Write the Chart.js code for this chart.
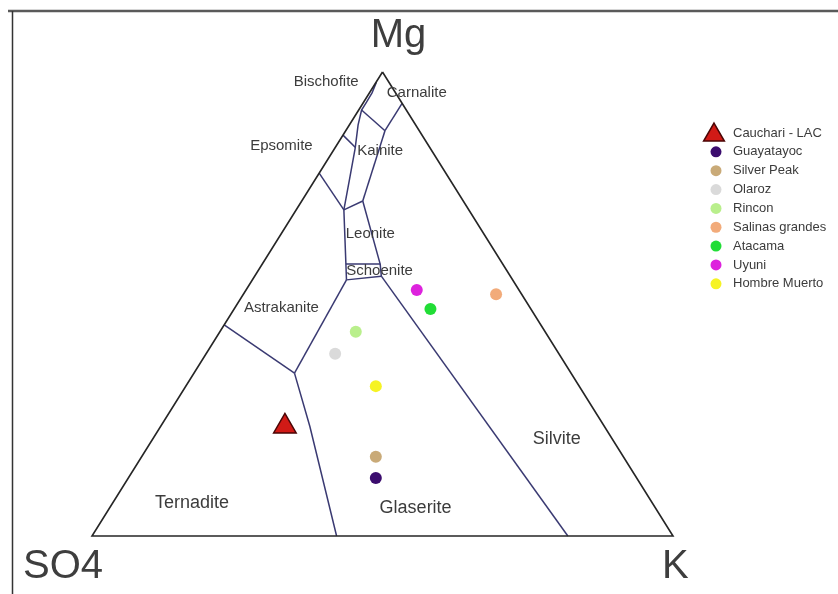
<!DOCTYPE html>
<html><head><meta charset="utf-8">
<script src="https://cdn.jsdelivr.net/npm/chart.js@4.4.0/dist/chart.umd.min.js"></script>
<style>html,body{margin:0;padding:0;background:#fff;overflow:hidden}#wrap{width:838px;height:594px;position:relative}</style>
</head><body><div id="wrap"><canvas id="c" width="838" height="594"></canvas></div>
<script>
// ---- data (ternary compositions, %) ----
const vertexLabels = ['Mg', 'SO4', 'K'];
const seriesNames = ['Cauchari - LAC','Guayatayoc','Silver Peak','Olaroz','Rincon','Salinas grandes','Atacama','Uyuni','Hombre Muerto'];
const mgPct  = [23.6, 12.5, 17.1, 39.3, 44.0, 52.1, 48.9, 53.0, 32.3];
const so4Pct = [55.0, 44.9, 42.6, 38.5, 32.6,  4.4, 17.3, 17.6, 35.0];
const kPct   = [21.4, 42.6, 40.3, 22.2, 23.4, 43.5, 33.8, 29.4, 32.7];

// phase-field boundaries, points as [Mg %, K %] (SO4 = remainder)
const triangleOutline       = [[100,0],[0,0],[0,100],[100,0]];
const bndBischofiteWest     = [[97.8,0.05],[95.5,0.45],[93.5,0.5],[91.8,0.5],[88.6,1.5],[83.6,3.5],[77.4,5.7],[70.3,8.2]];
const bndBischofiteEpsomite = [[86.4,0],[83.8,3.4]];
const bndEpsomiteSouth      = [[78.2,0],[70.3,8.2]];
const bndCarnalliteKainite  = [[91.8,0.5],[87.35,6.75]];
const bndCarnalliteEast     = [[87.35,6.75],[93.25,6.75]];
const bndKainiteEast        = [[87.35,6.75],[72.2,10.5]];
const bndKainiteLeonite     = [[72.2,10.5],[70.3,8.2]];
const bndLeoniteWest        = [[70.3,8.2],[58.6,14.4],[55.2,16.2]];
const bndLeoniteEast        = [[72.2,10.5],[58.6,20.3],[56.0,21.8]];
const bndSchoeniteTop       = [[58.6,14.4],[58.6,20.3]];
const bndSchoeniteBottom    = [[55.2,16.2],[56.0,21.8]];
const bndGlaseriteSilvite   = [[56.0,21.8],[0,81.9]];
const bndAstrakaniteGlaserite = [[55.2,16.2],[35.1,17.3]];
const bndTernaditeGlaserite = [[35.1,17.3],[23.6,25.7],[0,42.1]];
const bndAstrakaniteTernadite = [[45.5,0],[35.1,17.3]];
const boundaries = [bndBischofiteWest,bndBischofiteEpsomite,bndEpsomiteSouth,bndCarnalliteKainite,bndCarnalliteEast,
  bndKainiteEast,bndKainiteLeonite,bndLeoniteWest,bndLeoniteEast,bndSchoeniteTop,bndSchoeniteBottom,
  bndGlaseriteSilvite,bndAstrakaniteGlaserite,bndTernaditeGlaserite,bndAstrakaniteTernadite];

const fieldNames = ['Bischofite','Carnalite','Epsomite','Kainite','Leonite','Schoenite','Astrakanite','Ternadite','Glaserite','Silvite'];

// ---- styles / layout ----
const pointColors = ['#d11a16','#3b0c6e','#c9aa78','#dadada','#b9ef8c','#f2ab7a','#21dd36','#dd22dd','#f6f324'];
const fieldLabelPos = [[40.3,97.9],[55.9,95.4],[32.6,84.0],[49.6,83.0],[47.9,65.2],[49.5,57.1],[32.6,49.2],[17.2,7.2],[55.7,6.0],[80.0,20.8]];
const fieldLabelSize = [15,15,15,15,15,15,15,18,18,18];
const FONT = "'Liberation Sans', Arial, Helvetica, sans-serif";

function toXY(mg, so4, k) {
  const t = mg + so4 + k;
  const M = mg / t * 100, K = k / t * 100;
  return { x: K + M / 2, y: M };
}
const linePts = arr => arr.map(p => toXY(p[0], 100 - p[0] - p[1], p[1]));

const pointSets = seriesNames.map((name, i) => ({
  label: name,
  data: [toXY(mgPct[i], so4Pct[i], kPct[i])],
  pointStyle: i === 0 ? 'triangle' : 'circle',
  pointRadius: i === 0 ? 13 : 6,
  backgroundColor: pointColors[i],
  borderColor: i === 0 ? '#4a0505' : pointColors[i],
  borderWidth: i === 0 ? 1.5 : 0,
  order: 0,
  isSeries: true
}));
const lineSets = [{
  label: 'outline', data: linePts(triangleOutline), showLine: true, pointRadius: 0,
  borderColor: '#262626', borderWidth: 1.6, order: 1, tension: 0
}].concat(boundaries.map(b => ({
  label: 'boundary', data: linePts(b), showLine: true, pointRadius: 0,
  borderColor: '#3a3a72', borderWidth: 1.5, order: 1, tension: 0
})));

const decor = {
  id: 'decor',
  beforeDraw(chart) {
    const c = chart.ctx;
    c.save();
    c.fillStyle = '#fff';
    c.fillRect(0, 0, chart.width, chart.height);
    c.restore();
  },
  afterDraw(chart) {
    const c = chart.ctx, xs = chart.scales.x, ys = chart.scales.y;
    const px = (x, y) => [xs.getPixelForValue(x), ys.getPixelForValue(y)];
    c.save();
    // frame
    c.strokeStyle = '#5a5a5a'; c.lineWidth = 2.5;
    c.beginPath(); c.moveTo(8, 11); c.lineTo(838, 11); c.stroke();
    c.lineWidth = 1.5; c.strokeStyle = '#333';
    c.beginPath(); c.moveTo(12.5, 11); c.lineTo(12.5, 594); c.stroke();
    // vertex labels
    const top = px(50, 100), left = px(0, 0), right = px(100, 0);
    c.fillStyle = '#3e3e3e';
    c.font = '40px ' + FONT; c.textBaseline = 'alphabetic';
    c.textAlign = 'center'; c.fillText(vertexLabels[0], top[0] + 16, top[1] - 25);
    c.textAlign = 'left'; c.fillText(vertexLabels[1], left[0] - 69, left[1] + 42);
    c.fillText(vertexLabels[2], right[0] - 11, right[1] + 42);
    // field labels
    c.fillStyle = '#3c3c3c'; c.textAlign = 'center'; c.textBaseline = 'middle';
    fieldNames.forEach((n, i) => {
      const p = px(fieldLabelPos[i][0], fieldLabelPos[i][1]);
      c.font = fieldLabelSize[i] + 'px ' + FONT;
      c.fillText(n, p[0], p[1]);
    });
    // legend
    const lx = 716, tx = 733, ly0 = 133, step = 18.85;
    c.font = '13px ' + FONT; c.textAlign = 'left'; c.textBaseline = 'middle';
    chart.data.datasets.filter(d => d.isSeries).forEach((d, i) => {
      const y = ly0 + i * step;
      c.fillStyle = d.backgroundColor;
      c.beginPath();
      if (d.pointStyle === 'triangle') {
        const r = 12, cy = y + 2;
        for (let k = 0; k < 3; k++) {
          const a = k * 2 * Math.PI / 3;
          const X = lx - 2 + Math.sin(a) * r, Y = cy - Math.cos(a) * r;
          k ? c.lineTo(X, Y) : c.moveTo(X, Y);
        }
        c.closePath(); c.fill();
        c.strokeStyle = d.borderColor; c.lineWidth = 1.5; c.stroke();
      } else {
        c.arc(lx, y, 5.5, 0, Math.PI * 2); c.fill();
      }
      c.fillStyle = '#3c3c3c';
      c.fillText(d.label, tx, y);
    });
    c.restore();
  }
};

new Chart(document.getElementById('c'), {
  type: 'scatter',
  data: { datasets: pointSets.concat(lineSets) },
  options: {
    responsive: false, animation: false, devicePixelRatio: 1,
    layout: { padding: 0, autoPadding: false },
    plugins: { legend: { display: false }, tooltip: { enabled: false } },
    scales: {
      x: { type: 'linear', display: false, min: -15.835, max: 128.399 },
      y: { type: 'linear', display: false, min: -12.5, max: 115.517 }
    }
  },
  plugins: [decor]
});
</script></body></html>
